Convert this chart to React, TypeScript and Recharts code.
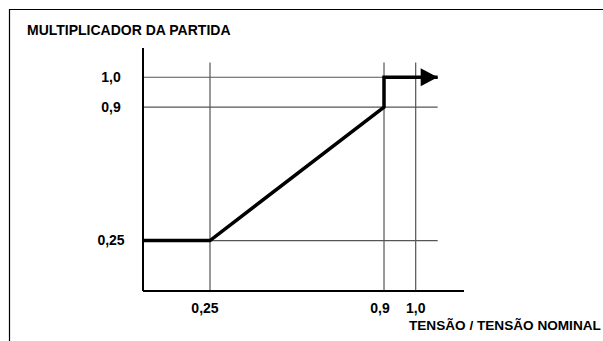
import React from "react";
import { LineChart, Line, XAxis, YAxis, ReferenceLine } from "recharts";

// curve: multiplicador da partida vs tensão / tensão nominal
const voltage = [0, 0.25, 0.9, 0.9, 1.1];
const multiplier = [0.25, 0.25, 0.9, 1.0, 1.0];

const xTicks = [0.25, 0.9, 1.0];
const xTickLabels = ["0,25", "0,9", "1,0"];
const yTicks = [0.25, 0.9, 1.0];
const yTickLabels = ["0,25", "0,9", "1,0"];

const title = "MULTIPLICADOR DA PARTIDA";
const xTitle = "TENSÃO / TENSÃO NOMINAL";

const data = voltage.map((v, i) => ({ v, m: multiplier[i] }));

const FONT = '"Liberation Sans", Arial, sans-serif';
const GRID = "#555";

// the drawing is schematic: axes are not evenly spaced, so use a piecewise linear scale
function piecewiseScale(knots: number[], pos: number[]): any {
  let dom: number[] = [knots[0], knots[knots.length - 1]];
  let rng: number[] = [0, 1];
  const frac = (v: number) => {
    for (let i = 1; i < knots.length; i++) {
      if (v <= knots[i] || i === knots.length - 1) {
        const t = (v - knots[i - 1]) / (knots[i] - knots[i - 1]);
        return pos[i - 1] + t * (pos[i] - pos[i - 1]);
      }
    }
    return 1;
  };
  const scale: any = (v: any) => rng[0] + frac(Number(v)) * (rng[1] - rng[0]);
  scale.domain = (d?: any) => {
    if (d === undefined) return dom.slice();
    dom = d.map(Number);
    return scale;
  };
  scale.range = (r?: any) => {
    if (r === undefined) return rng.slice();
    rng = r.map(Number);
    return scale;
  };
  scale.copy = () => piecewiseScale(knots, pos).domain(dom).range(rng);
  scale.ticks = () => knots.slice();
  scale.tickFormat = () => (v: number) => String(v);
  return scale;
}

const xScale = piecewiseScale([0, 0.25, 0.9, 1.0, 1.1, 1.2], [0, 0.2087, 0.7508, 0.8495, 0.918, 1]);
const yScale = piecewiseScale([0, 0.25, 0.9, 1.0, 1.2], [0, 0.2077, 0.7569, 0.8797, 1]);

// labels under the x axis sit a little left of their lines in the drawing
const xTickShift = [-5, -4, 0];

const XTick = ({ x, y, payload }: any) => {
  const i = xTicks.indexOf(payload.value);
  return (
    <text x={x + xTickShift[i]} y={y} dy="0.355em" textAnchor="middle" fontFamily={FONT} fontWeight="bold" fontSize={14} fill="#000">
      {xTickLabels[i]}
    </text>
  );
};

const YTick = ({ x, y, payload }: any) => (
  <text x={x} y={y} dy="0.355em" textAnchor="middle" fontFamily={FONT} fontWeight="bold" fontSize={14} fill="#000">
    {yTickLabels[yTicks.indexOf(payload.value)]}
  </text>
);

const ArrowDot = (props: any) => {
  const { cx, cy, index } = props;
  if (index !== data.length - 1) return <g key={index} />;
  return <polygon key={index} points={`${cx},${cy} ${cx - 17},${cy - 9} ${cx - 17},${cy + 9}`} fill="#000" />;
};

export default function App() {
  return (
    <div style={{ position: "fixed", left: 0, top: 0, width: 603, height: 341, overflow: "hidden", background: "#fff" }}>
      <LineChart width={603} height={341} data={data} margin={{ top: 48, right: 139, bottom: 10, left: 83 }}>
        <XAxis
          dataKey="v"
          type="number"
          domain={[0, 1.2]}
          allowDataOverflow
          scale={xScale}
          ticks={xTicks}
          height={40}
          tickSize={0}
          tickMargin={17}
          tick={<XTick />}
          axisLine={{ stroke: "#000", strokeWidth: 2 }}
          tickLine={false}
        />
        <YAxis
          type="number"
          domain={[0, 1.2]}
          allowDataOverflow
          scale={yScale}
          ticks={yTicks}
          width={60}
          tickSize={0}
          tickMargin={32}
          tick={<YTick />}
          axisLine={{ stroke: "#000", strokeWidth: 2 }}
          tickLine={false}
        />
        {yTicks.map((t) => (
          <ReferenceLine key={"h" + t} segment={[{ x: 0, y: t }, { x: 1.1, y: t }]} stroke={GRID} strokeWidth={1.2} />
        ))}
        {xTicks.map((t) => (
          <ReferenceLine key={"v" + t} segment={[{ x: t, y: 0 }, { x: t, y: 1.1 }]} stroke={GRID} strokeWidth={1.2} />
        ))}
        <Line
          dataKey="m"
          type="linear"
          stroke="#000"
          strokeWidth={3.5}
          dot={ArrowDot}
          activeDot={false}
          isAnimationActive={false}
        />
      </LineChart>
      <svg width={603} height={341} style={{ position: "absolute", left: 0, top: 0, pointerEvents: "none" }}>
        <path d="M9.5 341 V9.5 H603" fill="none" stroke="#000" strokeWidth={1.2} />
        <text x={27} y={35} fontFamily={FONT} fontWeight="bold" fontSize={14} fill="#000">
          {title}
        </text>
        <text x={409} y={330} fontFamily={FONT} fontWeight="bold" fontSize={13.6} fill="#000">
          {xTitle}
        </text>
      </svg>
    </div>
  );
}
